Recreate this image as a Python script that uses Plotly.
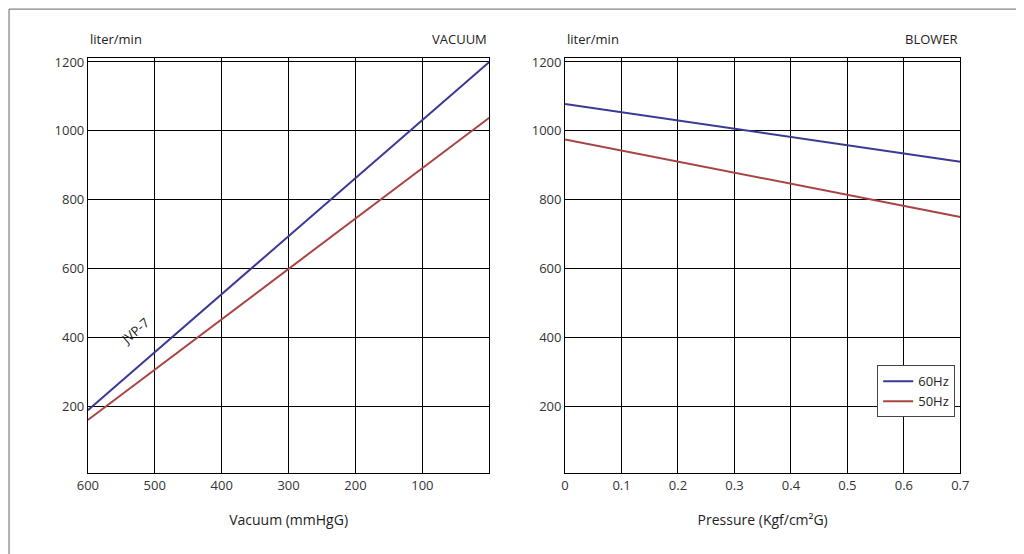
import plotly.graph_objects as go

# vacuum side (mmHgG), flow in liter/min
vac_x = [600, 0]
vac_60 = [188, 1200]
vac_50 = [160, 1038]

# blower side (Kgf/cm2G)
blow_x = [0, 0.7]
blow_60 = [1078, 910]
blow_50 = [975, 750]

y_ticks = [200, 400, 600, 800, 1000, 1200]
vac_ticks = [600, 500, 400, 300, 200, 100]
blow_ticks = [0, 0.1, 0.2, 0.3, 0.4, 0.5, 0.6, 0.7]
BLUE = "#3a3a94"
RED = "#a84444"

fig = go.Figure()
fig.add_trace(go.Scatter(x=vac_x, y=vac_60, mode="lines", line=dict(color=BLUE, width=2), showlegend=False, xaxis="x", yaxis="y"))
fig.add_trace(go.Scatter(x=vac_x, y=vac_50, mode="lines", line=dict(color=RED, width=2), showlegend=False, xaxis="x", yaxis="y"))
fig.add_trace(go.Scatter(x=blow_x, y=blow_60, mode="lines", name="60Hz", line=dict(color=BLUE, width=2), xaxis="x2", yaxis="y2"))
fig.add_trace(go.Scatter(x=blow_x, y=blow_50, mode="lines", name="50Hz", line=dict(color=RED, width=2), xaxis="x2", yaxis="y2"))

ax = dict(showline=True, linecolor="black", mirror=True, showgrid=True, gridcolor="black", gridwidth=1,
          ticks="", tickfont=dict(size=13, color="#333"), zeroline=False, automargin=False)
fig.update_layout(
    width=1024, height=554, autosize=False, paper_bgcolor="white", plot_bgcolor="white",
    margin=dict(l=0, r=0, t=0, b=0),
    font=dict(family="Open Sans", color="#222"),
    xaxis=dict(ax, domain=[0.078, 0.47], range=[600, 0], tickvals=vac_ticks,
               title=dict(text="Vacuum (mmHgG)", font=dict(size=14), standoff=22)),
    yaxis=dict(ax, domain=[0.16, 0.91], range=[5, 1212], tickvals=y_ticks),
    xaxis2=dict(ax, domain=[0.544, 0.93], range=[0, 0.7], tickvals=blow_ticks,
                ticktext=[f"{v:g}" for v in blow_ticks], tickangle=0, anchor="y2",
                title=dict(text="Pressure (Kgf/cm²G)", font=dict(size=14), standoff=22)),
    yaxis2=dict(ax, domain=[0.16, 0.91], range=[5, 1212], tickvals=y_ticks, anchor="x2"),
    legend=dict(x=0.925, y=0.355, xanchor="right", yanchor="top", bordercolor="#444", borderwidth=1,
                bgcolor="white", font=dict(size=13)),
)

ann = [
    dict(x=0.078, y=0.925, text="liter/min", xanchor="left", yanchor="bottom"),
    dict(x=0.47, y=0.925, text="VACUUM", xanchor="right", yanchor="bottom"),
    dict(x=0.544, y=0.925, text="liter/min", xanchor="left", yanchor="bottom"),
    dict(x=0.93, y=0.925, text="BLOWER", xanchor="right", yanchor="bottom"),
]
for a in ann:
    fig.add_annotation(xref="paper", yref="paper", showarrow=False, font=dict(size=13), **a)
fig.add_annotation(x=530, y=420, xref="x", yref="y", text="JVP-7", showarrow=False, textangle=-41, font=dict(size=13))
fig.add_shape(type="rect", xref="paper", yref="paper", x0=0.001, y0=0.002, x1=0.999, y1=0.998,
              line=dict(color="#666", width=1))

fig.write_html("out.html")
